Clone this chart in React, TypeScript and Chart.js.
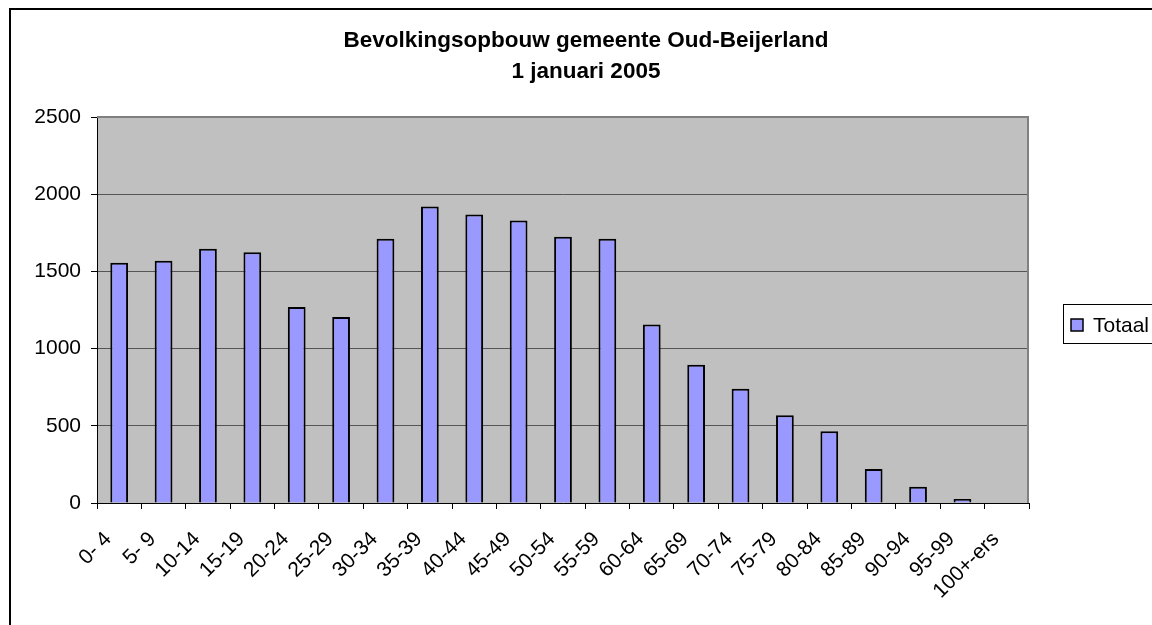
import React, { useEffect, useRef } from "react";
import { Chart, registerables } from "chart.js";

Chart.register(...registerables);

const CATEGORIES = [
  "0- 4", "5- 9", "10-14", "15-19", "20-24", "25-29", "30-34", "35-39",
  "40-44", "45-49", "50-54", "55-59", "60-64", "65-69", "70-74", "75-79",
  "80-84", "85-89", "90-94", "95-99", "100+-ers",
];
const TOTAAL = [
  1556, 1569, 1647, 1624, 1270, 1205, 1712, 1920, 1868, 1829, 1725, 1712,
  1156, 896, 740, 569, 465, 221, 106, 26, 0,
];
const SERIES_LABEL = "Totaal";
const Y_MIN = 0;
const Y_MAX = 2500;
const Y_STEP = 500;
const TITLE_LINES = ["Bevolkingsopbouw gemeente Oud-Beijerland", "1 januari 2005"];

const FONT = "'Liberation Sans', Arial, sans-serif";
const CANVAS_W = 1174;
const CANVAS_H = 640;

export default function App() {
  const ref = useRef<HTMLCanvasElement | null>(null);

  useEffect(() => {
    const canvas = ref.current;
    if (!canvas) return;

    const decor = {
      id: "decor",
      beforeDraw(chart: any) {
        const { ctx, chartArea } = chart;
        ctx.save();
        ctx.fillStyle = "#ffffff";
        ctx.fillRect(0, 0, chart.width, chart.height);
        ctx.fillStyle = "#C0C0C0";
        ctx.fillRect(chartArea.left, chartArea.top, chartArea.right - chartArea.left, chartArea.bottom - chartArea.top);
        ctx.restore();
      },
      afterDraw(chart: any) {
        const { ctx, chartArea } = chart;
        ctx.save();
        // plot area top/right border
        ctx.strokeStyle = "#808080";
        ctx.lineWidth = 2;
        ctx.beginPath();
        ctx.moveTo(chartArea.left, chartArea.top);
        ctx.lineTo(chartArea.right - 1, chartArea.top);
        ctx.lineTo(chartArea.right - 1, chartArea.bottom);
        ctx.stroke();

        // outer frame
        ctx.strokeStyle = "#000000";
        ctx.lineWidth = 2;
        ctx.strokeRect(10, 9, chart.width + 20, chart.height + 20);

        // title
        ctx.fillStyle = "#000000";
        ctx.font = `bold 22.5px ${FONT}`;
        ctx.textAlign = "center";
        ctx.textBaseline = "alphabetic";
        const cx = 586;
        ctx.fillText(TITLE_LINES[0], cx, 47);
        ctx.fillText(TITLE_LINES[1], cx, 78);

        // legend
        const lx = 1063, ly = 304, lh = 39;
        ctx.fillStyle = "#ffffff";
        ctx.fillRect(lx, ly, 200, lh);
        ctx.strokeStyle = "#000000";
        ctx.lineWidth = 1;
        ctx.strokeRect(lx + 0.5, ly + 0.5, 200, lh);
        const ds = chart.data.datasets[0];
        ctx.fillStyle = ds.backgroundColor;
        ctx.fillRect(1071, 319, 12, 12);
        ctx.lineWidth = 1.5;
        ctx.strokeRect(1071, 319, 12, 12);
        ctx.fillStyle = "#000000";
        ctx.font = `21px ${FONT}`;
        ctx.textAlign = "left";
        ctx.textBaseline = "middle";
        ctx.fillText(ds.label, 1093, 326);
        ctx.restore();
      },
    };

    const chart = new Chart(canvas, {
      type: "bar",
      data: {
        labels: CATEGORIES,
        datasets: [
          {
            label: SERIES_LABEL,
            data: TOTAAL,
            backgroundColor: "#9999FF",
            borderColor: "#000000",
            borderWidth: 2,
            barPercentage: 0.4,
            categoryPercentage: 1,
          },
        ],
      },
      options: {
        responsive: false,
        animation: false,
        devicePixelRatio: 1,
        layout: { padding: { left: 0, top: 117, right: CANVAS_W - 1029, bottom: 37 } },
        plugins: {
          legend: { display: false },
          title: { display: false },
          tooltip: { enabled: false },
        },
        scales: {
          x: {
            offset: true,
            grid: {
              offset: true,
              drawOnChartArea: false,
              drawTicks: true,
              tickLength: 6,
              tickColor: "#000000",
              tickWidth: 1,
            },
            border: { color: "#000000", width: 1 },
            ticks: {
              autoSkip: false,
              minRotation: 45,
              maxRotation: 45,
              padding: 18,
              labelOffset: -11,
              color: "#000000",
              font: { family: FONT, size: 21 },
            },
            afterFit(scale: any) {
              scale.height = 100;
            },
          },
          y: {
            min: Y_MIN,
            max: Y_MAX,
            ticks: {
              stepSize: Y_STEP,
              padding: 10,
              color: "#000000",
              font: { family: FONT, size: 21 },
              callback: (v: any) => String(v),
            },
            grid: {
              color: "#555555",
              lineWidth: 1,
              tickLength: 6,
              tickColor: "#000000",
            },
            border: { color: "#000000", width: 1 },
            afterFit(scale: any) {
              scale.width = 97;
            },
          },
        },
      },
      plugins: [decor],
    });

    return () => chart.destroy();
  }, []);

  return (
    <div
      style={{
        position: "fixed",
        left: 0,
        top: 0,
        width: "100vw",
        height: "100vh",
        overflow: "hidden",
        background: "#ffffff",
      }}
    >
      <canvas
        ref={ref}
        width={CANVAS_W}
        height={CANVAS_H}
        style={{ position: "absolute", left: 0, top: 0, width: CANVAS_W, height: CANVAS_H }}
      />
    </div>
  );
}
